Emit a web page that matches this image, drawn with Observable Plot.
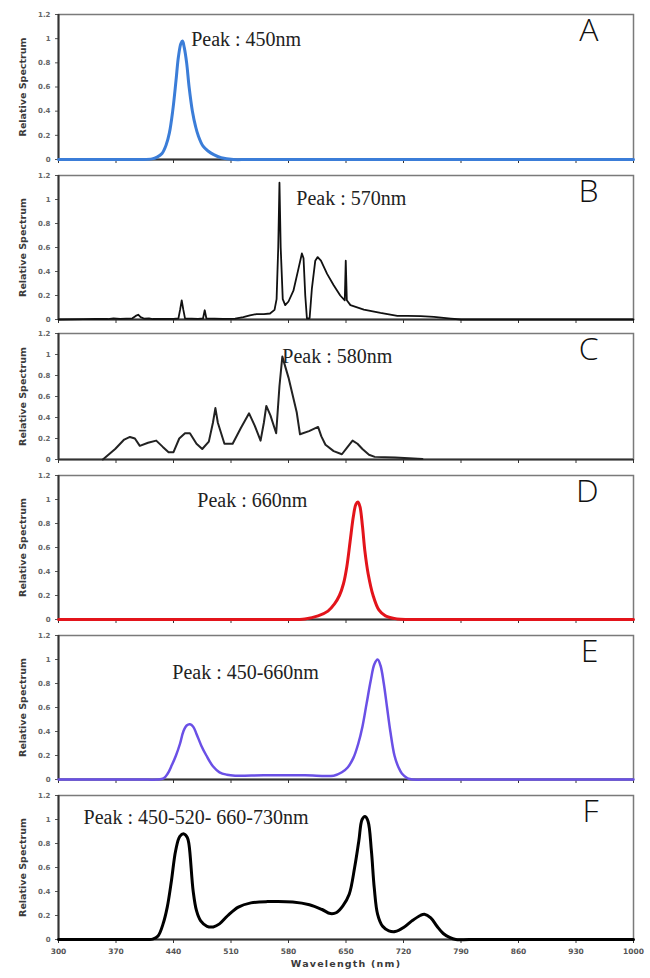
<!DOCTYPE html>
<html>
<head>
<meta charset="utf-8">
<script src="https://cdn.jsdelivr.net/npm/d3@7"></script>
<script src="https://cdn.jsdelivr.net/npm/@observablehq/plot@0.6"></script>
<style>
  html, body { margin: 0; padding: 0; background: #fff; }
  #chart { position: relative; width: 650px; height: 978px; overflow: hidden; }
  #chart svg { position: absolute; left: 0; }
</style>
</head>
<body>
<div id="chart"></div>
<script>
// ---------- data ----------
const xTicks = [300, 370, 440, 510, 580, 650, 720, 790, 860, 930, 1000];
const yTicks = [0, 0.2, 0.4, 0.6, 0.8, 1, 1.2];
const panelLetters = ["A", "B", "C", "D", "E", "F"];
const peakLabels = ["Peak : 450nm", "Peak : 570nm", "Peak : 580nm", "Peak : 660nm", "Peak : 450-660nm", "Peak : 450-520- 660-730nm"];
const peakLabelX = [461.5, 589.5, 572.5, 469, 438.5, 330.5];
const peakLabelY = [0.99, 1.01, 0.98, 0.995, 0.89, 1.02];

// spectrum A (blue LED)
const specA = [[300,0],[350,0],[390,0],[400,0],[414,0.005],[420,0.02],[426,0.05],[431,0.12],[435,0.22],[439,0.4],[443,0.65],[446,0.85],[449,0.96],[451,0.98],[453,0.93],[456,0.8],[459,0.6],[463,0.4],[467,0.27],[470,0.2],[476,0.11],[482,0.07],[489,0.04],[498,0.015],[513,0],[530,0],[600,0],[700,0],[800,0],[900,0],[1000,0]];
// spectrum B (HPS lamp)
const specB = [[300,0],[330,0.003],[345,0.005],[360,0.004],[367,0.01],[375,0.005],[390,0.01],[394,0.03],[397,0.04],[400,0.02],[404,0.008],[410,0.01],[415,0.004],[440,0.005],[446,0.01],[448,0.08],[450,0.16],[452,0.08],[454,0.01],[470,0.005],[476,0.01],[478,0.077],[480,0.01],[500,0.005],[515,0.008],[525,0.02],[533,0.035],[541,0.045],[550,0.045],[557.5,0.05],[563,0.08],[565.5,0.17],[567.5,0.6],[569,1.14],[570.5,0.6],[573,0.17],[576,0.12],[580,0.15],[586,0.24],[592,0.42],[596.3,0.55],[598.3,0.51],[600.4,0.2],[602.4,0.01],[605.7,0.01],[608.5,0.26],[612.6,0.49],[615.5,0.52],[619.5,0.49],[627,0.38],[635,0.285],[643,0.2],[648.5,0.16],[649.7,0.49],[651,0.16],[655.4,0.12],[671.7,0.083],[692,0.055],[712.5,0.03],[725,0.03],[741,0.028],[757,0.022],[777.7,0.008],[790,0],[1000,0]];
// spectrum C (metal halide)
const specC = [[354,0],[369,0.1],[380,0.19],[387,0.215],[393,0.2],[399,0.13],[409,0.16],[419,0.18],[427,0.12],[434,0.07],[440,0.07],[447,0.2],[454,0.25],[460,0.25],[468,0.15],[475,0.1],[483,0.17],[488,0.35],[491,0.49],[494,0.35],[502,0.15],[512,0.15],[522,0.3],[532,0.44],[539,0.32],[546,0.18],[550,0.35],[553,0.51],[558,0.42],[565,0.25],[569,0.7],[572.5,0.98],[580,0.78],[590,0.45],[594,0.24],[605,0.27],[616,0.31],[620,0.22],[625,0.14],[635,0.08],[645,0.05],[652,0.12],[658,0.18],[664,0.15],[670,0.1],[678,0.045],[685,0.025],[710,0.02],[743,0.005]];
// spectrum D (red LED)
const specD = [[300,0],[400,0],[500,0],[560,0],[580,0],[600,0.005],[616,0.03],[628,0.07],[636,0.13],[642,0.2],[647,0.3],[651,0.44],[655,0.65],[659,0.86],[662,0.96],[664.5,0.98],[667,0.94],[670,0.78],[673,0.57],[677,0.38],[683,0.2],[690,0.08],[698,0.03],[712,0.005],[725,0],[740,0],[800,0],[900,0],[1000,0]];
// spectrum E (blue+red LED)
const specE = [[300,0],[350,0],[400,0],[420,0],[428,0.01],[433,0.05],[438,0.12],[443,0.2],[448,0.3],[452,0.4],[456,0.45],[460,0.46],[464,0.44],[468,0.38],[474,0.28],[480,0.2],[488,0.11],[496,0.06],[505,0.04],[515,0.032],[550,0.035],[600,0.035],[635,0.032],[645,0.06],[652,0.1],[659,0.18],[665,0.3],[670,0.44],[675,0.63],[680,0.82],[684.5,0.96],[688.5,1.0],[692,0.95],[696,0.8],[700,0.6],[704,0.4],[709,0.2],[714,0.1],[718,0.05],[725,0.01],[732,0],[750,0],[800,0],[900,0],[1000,0]];
// spectrum F (full-spectrum LED)
const specF = [[300,0],[350,0],[400,0],[410,0],[414.6,0.003],[421.2,0.03],[427.3,0.13],[432.4,0.27],[437.5,0.49],[442.6,0.74],[447.7,0.86],[452.7,0.88],[456.8,0.85],[458.9,0.79],[464,0.4],[468,0.24],[473.1,0.155],[480.8,0.11],[488.4,0.105],[496,0.13],[506.2,0.2],[518.9,0.27],[534.2,0.305],[554.6,0.316],[585.1,0.313],[605.5,0.29],[620.8,0.25],[631,0.216],[638.6,0.225],[646.2,0.28],[653.9,0.377],[660.5,0.6],[665.6,0.82],[669.6,1.0],[673.2,1.025],[676.8,0.986],[680.9,0.74],[684.4,0.43],[688.5,0.21],[694.6,0.11],[702.2,0.072],[709.9,0.066],[720.1,0.1],[730.2,0.155],[740.4,0.2],[745.5,0.21],[753.2,0.18],[760.8,0.11],[768.4,0.05],[776.1,0.017],[783.7,0],[800,0],[850,0],[900,0],[1000,0]];

// ---------- layout / styles ----------
const panels = [
  {data: specA, top: 14,  bottom: 159, stroke: "#3b7dd8", width: 3,   curve: "catmull-rom"},
  {data: specB, top: 175, bottom: 319, stroke: "#111",    width: 1.8, curve: "linear"},
  {data: specC, top: 333, bottom: 459, stroke: "#222",    width: 2,   curve: "linear"},
  {data: specD, top: 475, bottom: 619, stroke: "#e3141b", width: 3,   curve: "catmull-rom"},
  {data: specE, top: 635, bottom: 779, stroke: "#6a50e6", width: 2.5, curve: "catmull-rom"},
  {data: specF, top: 795, bottom: 939, stroke: "#000",    width: 3,   curve: "catmull-rom"}
];

const container = document.getElementById("chart");
const mTop = 10;

panels.forEach((p, i) => {
  const last = i === panels.length - 1;
  const mBottom = last ? 39 : 8;
  const h = p.bottom - p.top + mTop + mBottom;
  const svg = Plot.plot({
    width: 650,
    height: h,
    marginLeft: 58,
    marginRight: 17,
    marginTop: mTop,
    marginBottom: mBottom,
    style: "background: transparent; overflow: visible;",
    x: {domain: [300, 1000]},
    y: {domain: [0, 1.2]},
    marks: [
      Plot.frame({stroke: "#7a7a7a", strokeWidth: 1.5}),
      Plot.axisY({ticks: yTicks, tickSize: 3, tickPadding: 5, fontSize: 7, fill: "#666",
                  fontFamily: "DejaVu Sans", fontWeight: "bold", label: null, stroke: "#555",
                  tickFormat: d => String(d)}),
      Plot.axisX({ticks: xTicks, tickSize: 4, tickPadding: 5, fontSize: 7.5, fill: "#555",
                  fontFamily: "DejaVu Sans", fontWeight: "bold", label: null, stroke: "#333",
                  tickFormat: last ? (d => String(d)) : (() => "")}),
      Plot.ruleX([300], {stroke: "#333", strokeWidth: 2}),
      Plot.ruleY([0], {stroke: "#333", strokeWidth: 2}),
      Plot.line(p.data, {x: d => d[0], y: d => d[1], stroke: p.stroke, strokeWidth: p.width,
                          curve: p.curve, strokeLinejoin: "round", strokeLinecap: "round"}),
      Plot.text(["Relative Spectrum"], {frameAnchor: "left", rotate: -90, dx: -36, textAnchor: "middle",
                  fontFamily: "DejaVu Sans", fontWeight: "bold", fontSize: 9.5, fill: "#3a3a3a"}),
      Plot.text([panelLetters[i]], {frameAnchor: "top-right", dx: -35, dy: 4, textAnchor: "end",
                  lineAnchor: "top", fontFamily: "Open Sans", fontWeight: 300, fontSize: 32, fill: "#111"}),
      Plot.text([peakLabels[i]], {x: () => peakLabelX[i], y: () => peakLabelY[i], textAnchor: "start",
                  fontFamily: "Liberation Serif", fontSize: 20, fill: "#222"}),
      ...(last ? [Plot.text(["Wavelength (nm)"], {frameAnchor: "bottom", dy: 27, fontFamily: "DejaVu Sans",
                  fontWeight: "bold", fontSize: 9.5, fill: "#3a3a3a"})] : [])
    ]
  });
  svg.style.top = (p.top - mTop) + "px";
  d3.select(svg).selectAll("text").filter(function() { return this.textContent === "Wavelength (nm)"; })
    .attr("letter-spacing", "1.2");
  container.appendChild(svg);
});
</script>
</body>
</html>
